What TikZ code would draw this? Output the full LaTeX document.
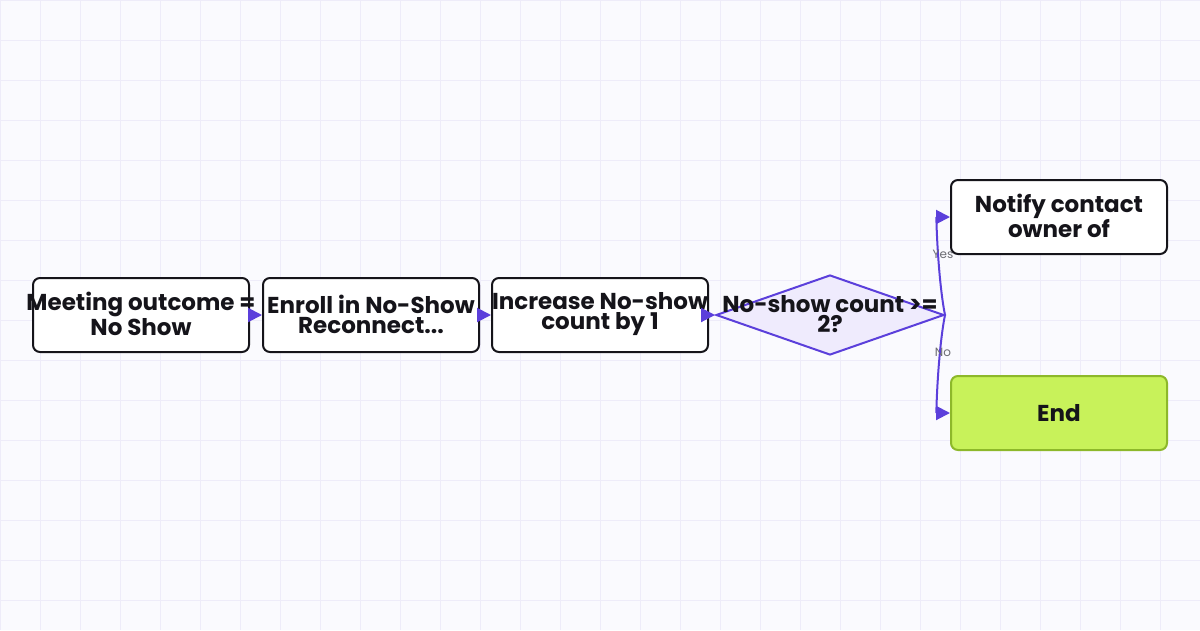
\documentclass[tikz,border=0pt]{standalone}
\usepackage{fontspec}
\setmainfont{Poppins}
\usetikzlibrary{shapes.geometric,arrows.meta}
\definecolor{bgc}{HTML}{FAFAFE}
\definecolor{gridc}{HTML}{EEECF9}
\definecolor{edgec}{HTML}{5B3FDB}
\definecolor{dfill}{HTML}{EFEBFD}
\definecolor{inkc}{HTML}{15141A}
\definecolor{endfill}{HTML}{C8F25A}
\definecolor{enddraw}{HTML}{8DB82A}
\definecolor{lblc}{HTML}{6B6B72}
\newcommand{\ctrline}[1]{\makebox[190pt][c]{#1}}
\tikzset{
  box/.style={draw=inkc, line width=2pt, rounded corners=7pt, fill=white,
    minimum width=216pt, minimum height=74pt, inner sep=0pt, text=inkc,
    font=\fontsize{23}{20}\selectfont\bfseries, align=center},
  boxtext/.style={box, draw=none, fill=none, minimum width=0pt, minimum height=0pt},
  endbox/.style={box, fill=endfill, draw=enddraw},
  dec/.style={draw=edgec, line width=2pt, fill=dfill, diamond, inner sep=0pt,
    minimum width=228pt, minimum height=80pt},
  flow/.style={draw=edgec, line width=2pt, -{Triangle[length=14pt,width=14pt]}},
  elbl/.style={font=\fontsize{12}{12}\selectfont, text=lblc, inner sep=1pt}
}
\begin{document}
\begin{tikzpicture}[x=1pt,y=-1pt]
\fill[bgc] (0,0) rectangle (1200,630);
\useasboundingbox (0,0) rectangle (1200,630);
\foreach \x in {0,40,...,1200} \draw[gridc, line width=1pt] (\x,0) -- (\x,630);
\foreach \y in {0,40,...,630} \draw[gridc, line width=1pt] (0,\y) -- (1200,\y);

\node[box] (a) at (141,315) {};
\node[box] (b) at (371,315) {};
\node[box] (c) at (600,315) {};
\node[dec] (d) at (830,315) {};
\node[box] (n) at (1059,217) {};
\node[endbox] (e) at (1059,413) {End};
\node[boxtext] (at) at (141,314) {\ctrline{Meeting outcome =}\\\ctrline{No Show}};
\node[boxtext] (bt) at (371,314) {\ctrline{Enroll in No-Show}\\\ctrline{Reconnect...}};
\node[boxtext] (ct) at (600,314) {\ctrline{Increase No-show}\\\ctrline{count by 1}};
\node[boxtext] (dt) at (830,314) {No-show count >=\\2?};
\node[boxtext] (nt) at (1059,216) {Notify contact\\owner of};

\draw[flow] (a) -- (b);
\draw[flow] (b) -- (c);
\draw[flow] (c) -- (d);
\draw[flow] (d.east) .. controls (938,280) and (936,217) .. (n.west);
\draw[flow] (d.east) .. controls (938,350) and (936,413) .. (e.west);
\node[elbl] (ly) at (943,254) {Yes};
\node[elbl] (ln) at (943,352) {No};
\end{tikzpicture}
\end{document}
